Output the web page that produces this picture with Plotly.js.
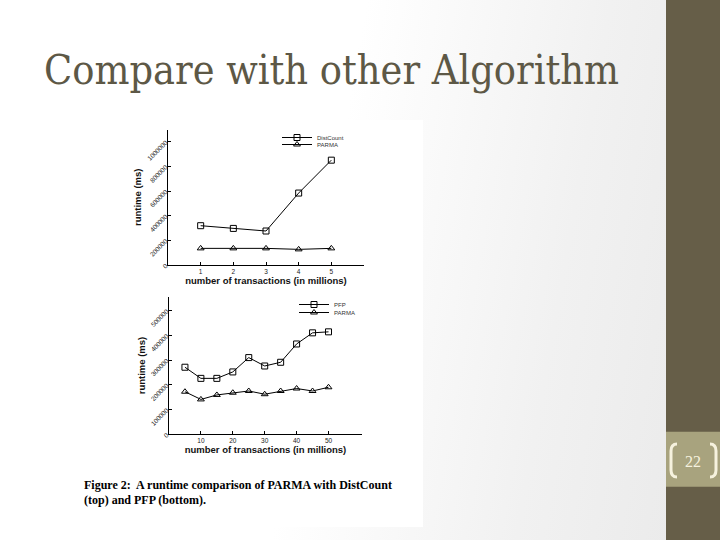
<!DOCTYPE html>
<html>
<head>
<meta charset="utf-8">
<script src="https://cdn.plot.ly/plotly-3.0.1.min.js"></script>
<style>
html,body{margin:0;padding:0;}
#chart{width:720px;height:540px;background:linear-gradient(100deg,#ffffff 0%,#ffffff 45%,#f1f1f1 75%,#e9e9e9 100%);}
</style>
</head>
<body>
<div id="chart"></div>
<script>
// Top chart data (DistCount vs PARMA)
const topX = [1, 2, 3, 4, 5];
const distCount = [319000, 297000, 276000, 584000, 851000];
const parmaTop = [135000, 135000, 135000, 127000, 135000];
// Bottom chart data (PFP vs PARMA)
const botX = [5, 10, 15, 20, 25, 30, 35, 40, 45, 50];
const pfp = [271000, 226000, 226000, 252000, 310000, 276000, 291000, 365000, 410000, 414000];
const parmaBot = [172000, 141000, 159000, 168000, 175000, 162000, 175000, 185000, 175000, 190000];
const botTicks = [10, 20, 30, 40, 50];

const slideTitle = "Compare with other Algorithm";
const xTitle = "number of transactions (in millions)";
const yTitle = "runtime (ms)";
const captionLines = ["Figure 2:  A runtime comparison of PARMA with DistCount", "(top) and PFP (bottom)."];
const slideNumber = "22";

const W = 720, H = 540;
const px = x => x / W;
const py = y => 1 - y / H;

const lineStyle = {color: '#000', width: 1};
const sq = {symbol: 'square-open', size: 6, color: '#000', line: {width: 1, color: '#000'}};
const tri = {symbol: 'triangle-up-open', size: 6, color: '#000', line: {width: 1, color: '#000'}};

const traces = [
  {x: topX, y: distCount, name: 'DistCount', mode: 'lines+markers', line: lineStyle, marker: sq, xaxis: 'x', yaxis: 'y', legend: 'legend'},
  {x: topX, y: parmaTop, name: 'PARMA', mode: 'lines+markers', line: lineStyle, marker: tri, xaxis: 'x', yaxis: 'y', legend: 'legend2'},
  {x: botX, y: pfp, name: 'PFP', mode: 'lines+markers', line: lineStyle, marker: sq, xaxis: 'x2', yaxis: 'y2', legend: 'legend3'},
  {x: botX, y: parmaBot, name: 'PARMA', mode: 'lines+markers', line: lineStyle, marker: tri, xaxis: 'x2', yaxis: 'y2', legend: 'legend4'}
];

const axFont = {family: 'Liberation Sans, Arial, sans-serif', size: 6.5, color: '#222'};
const titleFont = {family: 'Liberation Sans, Arial, sans-serif', size: 9.5, color: '#111', weight: 'bold'};

function xax(domain, range, tickvals, anchor) {
  return {domain: domain, range: range, tickmode: 'array', tickvals: tickvals, anchor: anchor,
    showgrid: false, zeroline: false, showline: true, linecolor: '#000', linewidth: 1,
    ticks: 'inside', ticklen: 3, tickcolor: '#000', tickfont: axFont,
    title: {text: xTitle, font: titleFont, standoff: 3}};
}
function yax(domain, range, dtick, anchor) {
  return {domain: domain, range: range, dtick: dtick, tick0: 0, anchor: anchor,
    showgrid: false, zeroline: false, showline: true, linecolor: '#000', linewidth: 1,
    ticks: 'inside', ticklen: 3, tickcolor: '#000', tickfont: axFont, tickangle: -45,
    tickformat: 'd', title: {text: yTitle, font: titleFont, standoff: 2}};
}
function leg(xLeft, yTop) {
  return {x: px(xLeft), y: py(yTop), xanchor: 'left', yanchor: 'top', bgcolor: 'rgba(0,0,0,0)',
    font: {family: 'Liberation Sans, Arial, sans-serif', size: 6, color: '#333'}, tracegroupgap: 0, itemwidth: 30};
}

function bracket(xEdge, xCurve, yTop, yBot) {
  return `M ${px(xEdge)},${py(yTop)} Q ${px(xCurve)},${py(yTop)} ${px(xCurve)},${py(yTop+7)} L ${px(xCurve)},${py(yBot-7)} Q ${px(xCurve)},${py(yBot)} ${px(xEdge)},${py(yBot)}`;
}

const layout = {
  width: W, height: H,
  margin: {l: 0, r: 0, t: 0, b: 0},
  paper_bgcolor: 'rgba(0,0,0,0)',
  plot_bgcolor: 'rgba(0,0,0,0)',
  showlegend: true,
  xaxis: xax([px(168), px(364)], [0, 6], topX, 'y'),
  yaxis: yax([py(265), py(129.5)], [0, 1100000], 200000, 'x'),
  xaxis2: xax([px(169), px(362)], [0, 60.5], botTicks, 'y2'),
  yaxis2: yax([py(434.3), py(296.7)], [0, 556000], 100000, 'x2'),
  legend: leg(277, 123),
  legend2: leg(277, 130),
  legend3: leg(294, 290),
  legend4: leg(294, 298),
  shapes: [
    {type: 'rect', xref: 'paper', yref: 'paper', x0: px(75), x1: px(423), y0: py(527), y1: py(120), fillcolor: '#ffffff', line: {width: 0}, layer: 'below'},
    {type: 'rect', xref: 'paper', yref: 'paper', x0: px(666), x1: 1, y0: 0, y1: 1, fillcolor: '#665E48', line: {width: 0}, layer: 'below'},
    {type: 'rect', xref: 'paper', yref: 'paper', x0: px(666), x1: 1, y0: py(486.7), y1: py(431.7), fillcolor: '#A8A37E', line: {width: 0}, layer: 'below'},
    {type: 'path', xref: 'paper', yref: 'paper', path: bracket(677, 671, 444, 477), line: {color: '#F6F2DE', width: 3}},
    {type: 'path', xref: 'paper', yref: 'paper', path: bracket(710, 716, 444, 477), line: {color: '#F6F2DE', width: 3}}
  ],
  annotations: [
    {text: slideTitle, xref: 'paper', yref: 'paper', x: px(42), y: py(70), xanchor: 'left', yanchor: 'middle', showarrow: false,
      font: {family: 'DejaVu Serif Condensed, Liberation Serif, serif', size: 41, color: '#5D5846'}},
    {text: captionLines[0], xref: 'paper', yref: 'paper', x: px(82), y: py(485), xanchor: 'left', yanchor: 'middle', showarrow: false,
      font: {family: 'Liberation Serif, Times New Roman, serif', size: 12, color: '#000', weight: 'bold'}},
    {text: captionLines[1], xref: 'paper', yref: 'paper', x: px(82), y: py(500), xanchor: 'left', yanchor: 'middle', showarrow: false,
      font: {family: 'Liberation Serif, Times New Roman, serif', size: 12, color: '#000', weight: 'bold'}},
    {text: slideNumber, xref: 'paper', yref: 'paper', x: px(693), y: py(461), xanchor: 'center', yanchor: 'middle', showarrow: false,
      font: {family: 'Liberation Serif, Times New Roman, serif', size: 16, color: '#F6F2DE'}}
  ]
};

Plotly.newPlot('chart', traces, layout, {displayModeBar: false, staticPlot: true});
</script>
</body>
</html>
